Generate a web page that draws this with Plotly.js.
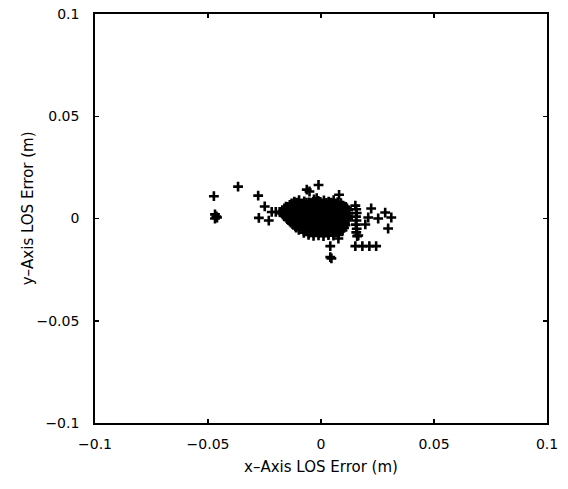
<!DOCTYPE html>
<html>
<head>
<meta charset="utf-8">
<script src="https://cdn.plot.ly/plotly-3.0.1.min.js"></script>
<style>html,body{margin:0;padding:0;background:#fff;}#plot{width:568px;height:489px;}</style>
</head>
<body>
<div id="plot"></div>
<script>
// Dense core of the error cloud (estimated, row by row)
const coreX = [
  -0.0118,-0.0097,-0.0074,-0.0052,-0.0031,-0.0012,0.0013,0.0034,0.0056,0.0074,
  -0.0130,-0.0108,-0.0086,-0.0064,-0.0042,-0.0020,0.0002,0.0024,0.0045,0.0066,0.0088,
  -0.0155,-0.0138,-0.0119,-0.0098,-0.0078,-0.0054,-0.0035,-0.0010,0.0012,0.0031,0.0054,0.0077,0.0098,0.0110,
  -0.0162,-0.0140,-0.0118,-0.0096,-0.0074,-0.0052,-0.0030,-0.0008,0.0014,0.0036,0.0058,0.0080,0.0102,0.0115,
  -0.0170,-0.0150,-0.0131,-0.0110,-0.0088,-0.0066,-0.0044,-0.0021,0.0002,0.0023,0.0045,0.0066,0.0088,0.0108,0.0120,
  -0.0172,-0.0152,-0.0131,-0.0110,-0.0088,-0.0066,-0.0044,-0.0022,0.0000,0.0022,0.0044,0.0066,0.0088,0.0110,0.0122,
  -0.0163,-0.0142,-0.0121,-0.0099,-0.0077,-0.0055,-0.0033,-0.0011,0.0011,0.0033,0.0055,0.0077,0.0099,0.0118,
  -0.0152,-0.0132,-0.0110,-0.0088,-0.0066,-0.0044,-0.0022,0.0000,0.0022,0.0044,0.0066,0.0088,0.0110,0.0120,
  -0.0144,-0.0124,-0.0102,-0.0080,-0.0058,-0.0036,-0.0014,0.0008,0.0030,0.0052,0.0074,0.0096,0.0115,
  -0.0133,-0.0111,-0.0089,-0.0067,-0.0045,-0.0023,-0.0001,0.0021,0.0043,0.0065,0.0087,0.0106,
  -0.0122,-0.0100,-0.0078,-0.0056,-0.0034,-0.0012,0.0010,0.0032,0.0054,0.0076,0.0098,0.0108,
  -0.0110,-0.0088,-0.0066,-0.0044,-0.0022,0.0000,0.0022,0.0044,0.0066,0.0088,0.0102,
  -0.0098,-0.0076,-0.0054,-0.0032,-0.0010,0.0012,0.0034,0.0056,0.0078,0.0095,
  -0.0076,-0.0054,-0.0032,-0.0010,0.0012,0.0034,0.0056,0.0078,
  -0.0055,-0.0033,-0.0011,0.0011,0.0033,0.0055,0.0077
];
const coreY = [
  0.0082,0.0090,0.0084,0.0079,0.0093,0.0086,0.0088,0.0082,0.0090,0.0080,
  0.0074,0.0078,0.0073,0.0077,0.0075,0.0079,0.0074,0.0076,0.0078,0.0073,0.0075,
  0.0058,0.0066,0.0061,0.0068,0.0060,0.0065,0.0059,0.0067,0.0062,0.0064,0.0058,0.0066,0.0063,0.0057,
  0.0049,0.0053,0.0050,0.0054,0.0048,0.0052,0.0051,0.0049,0.0053,0.0050,0.0052,0.0048,0.0053,0.0050,
  0.0036,0.0041,0.0037,0.0043,0.0038,0.0040,0.0035,0.0042,0.0039,0.0036,0.0041,0.0038,0.0043,0.0037,0.0040,
  0.0025,0.0029,0.0026,0.0028,0.0024,0.0029,0.0027,0.0025,0.0028,0.0026,0.0029,0.0024,0.0027,0.0028,0.0025,
  0.0012,0.0018,0.0014,0.0016,0.0011,0.0019,0.0013,0.0017,0.0015,0.0012,0.0018,0.0014,0.0016,0.0013,
  0.0002,0.0004,0.0000,0.0003,0.0001,0.0004,0.0002,0.0000,0.0003,0.0001,0.0004,0.0002,0.0003,0.0000,
  -0.0008,-0.0013,-0.0007,-0.0011,-0.0006,-0.0012,-0.0009,-0.0014,-0.0008,-0.0011,-0.0007,-0.0012,-0.0010,
  -0.0020,-0.0024,-0.0021,-0.0023,-0.0019,-0.0024,-0.0022,-0.0020,-0.0023,-0.0021,-0.0024,-0.0022,
  -0.0031,-0.0036,-0.0032,-0.0038,-0.0033,-0.0035,-0.0030,-0.0037,-0.0034,-0.0032,-0.0036,-0.0033,
  -0.0045,-0.0048,-0.0044,-0.0047,-0.0046,-0.0049,-0.0045,-0.0047,-0.0044,-0.0048,-0.0046,
  -0.0056,-0.0061,-0.0057,-0.0062,-0.0058,-0.0060,-0.0055,-0.0061,-0.0057,-0.0059,
  -0.0070,-0.0073,-0.0069,-0.0072,-0.0071,-0.0074,-0.0070,-0.0072,
  -0.0080,-0.0085,-0.0082,-0.0086,-0.0081,-0.0084,-0.0080
];
// Scattered points around the core
const outX = [
  -0.0474,-0.0463,-0.0469,-0.0460,-0.0469,
  -0.0367,-0.0278,-0.0249,-0.0275,-0.0231,
  -0.0218,-0.0200,-0.0183,
  -0.0011,-0.0063,-0.0051,0.0080,-0.0019,
  0.0152,0.0156,0.0158,0.0155,0.0157,0.0154,0.0158,0.0156,0.0160,
  0.0222,0.0284,0.0311,0.0253,0.0209,0.0297,0.0196,0.0165,
  0.0152,0.0183,0.0214,0.0244,
  0.0041,0.0041,0.0046,0.0077
];
const outY = [
  0.0109,0.0010,0.0020,0.0005,0.0000,
  0.0156,0.0112,0.0059,0.0003,-0.0010,
  0.0032,0.0032,0.0032,
  0.0164,0.0141,0.0132,0.0116,0.0099,
  0.0063,0.0045,0.0027,0.0009,-0.0010,-0.0030,-0.0050,-0.0068,-0.0086,
  0.0049,0.0029,0.0005,0.0000,0.0005,-0.0049,-0.0029,-0.0083,
  -0.0135,-0.0135,-0.0135,-0.0135,
  -0.0135,-0.0189,-0.0195,-0.0098
];
const tickVals = [-0.1,-0.05,0,0.05,0.1];
const tickText = ['\u22120.1','\u22120.05','0','0.05','0.1'];
const xTitle = 'x\u2013Axis LOS Error (m)';
const yTitle = 'y\u2013Axis LOS Error (m)';

const mk = {symbol:'cross-thin', size:7, color:'#000', line:{color:'#000', width:2.6}};
const traces = [
  {x: coreX, y: coreY, type:'scatter', mode:'markers', marker: mk, hoverinfo:'skip'},
  {x: outX, y: outY, type:'scatter', mode:'markers', marker: mk, hoverinfo:'skip'}
];
const fnt = {family:'DejaVu Sans, sans-serif', size:14, color:'#000'};
const tfnt = {family:'DejaVu Sans, sans-serif', size:15, color:'#000'};
const axBase = {
  range:[-0.1,0.1], tickmode:'array', tickvals: tickVals, ticktext: tickText,
  ticks:'inside', ticklen:4, tickwidth:1.5, tickcolor:'#000',
  showline:true, linecolor:'#000', linewidth:1.8, mirror:'ticks',
  showgrid:false, zeroline:false, tickfont: fnt, automargin:false
};
const layout = {
  width:568, height:489,
  margin:{l:95, r:21, t:14, b:66},
  paper_bgcolor:'#fff', plot_bgcolor:'#fff',
  showlegend:false,
  font: fnt,
  xaxis: Object.assign({}, axBase, {title:{text: xTitle, font: tfnt, standoff:11}, ticklabelstandoff:7}),
  yaxis: Object.assign({}, axBase, {ticklabelstandoff:11}),
  annotations:[{
    text: yTitle, font: tfnt, textangle:-90, showarrow:false,
    xref:'paper', yref:'paper', x:0, y:0.525, xanchor:'center', yanchor:'middle', xshift:-67
  }]
};
Plotly.newPlot('plot', traces, layout, {staticPlot:true, displayModeBar:false});
</script>
</body>
</html>
